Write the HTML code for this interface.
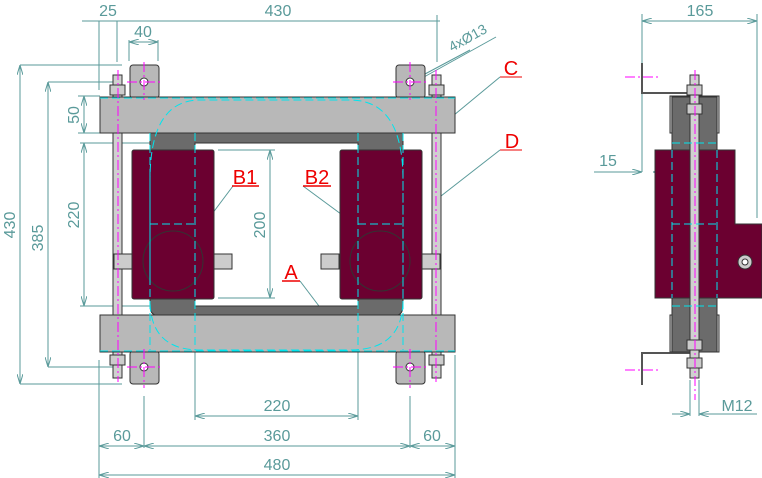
<!DOCTYPE html>
<html><head><meta charset="utf-8"><style>html,body{margin:0;padding:0;background:#fff}svg{display:block}</style></head><body>
<svg width="762" height="478" viewBox="0 0 762 478" xmlns="http://www.w3.org/2000/svg" font-family="Liberation Sans, sans-serif">
<defs>
<marker id="a" viewBox="0 0 10 6" refX="10" refY="3" markerWidth="10" markerHeight="6" orient="auto-start-reverse" markerUnits="userSpaceOnUse"><path d="M0,0 L10,3 L0,6" fill="none" stroke="#5a9a9a" stroke-width="1"/></marker>
</defs>
<g stroke="#5a9a9a" stroke-width="1" fill="none">
<!-- top dims -->
<line x1="82" y1="21" x2="440" y2="21"/>
<line x1="99" y1="21" x2="99" y2="90"/><line x1="117" y1="21" x2="117" y2="62"/>
<line x1="437" y1="15" x2="437" y2="62"/>
<line x1="129" y1="40" x2="129" y2="61"/><line x1="158" y1="40" x2="158" y2="61"/>
<line x1="129" y1="42" x2="158" y2="42" marker-start="url(#a)" marker-end="url(#a)"/>
<!-- left dims -->
<line x1="20" y1="65" x2="122" y2="65"/><line x1="20" y1="65" x2="20" y2="384" marker-start="url(#a)" marker-end="url(#a)"/>
<line x1="20" y1="384" x2="122" y2="384"/>
<line x1="48" y1="82" x2="113" y2="82"/><line x1="48" y1="82" x2="48" y2="367" marker-start="url(#a)" marker-end="url(#a)"/>
<line x1="48" y1="367" x2="113" y2="367"/>
<line x1="78" y1="96" x2="100" y2="96"/><line x1="84" y1="96" x2="84" y2="133" marker-start="url(#a)" marker-end="url(#a)"/>
<line x1="78" y1="133" x2="100" y2="133"/>
<line x1="80" y1="143" x2="195" y2="143"/><line x1="84" y1="143" x2="84" y2="306" marker-start="url(#a)" marker-end="url(#a)"/>
<line x1="80" y1="306" x2="195" y2="306"/>
<line x1="218" y1="150" x2="275" y2="150"/><line x1="218" y1="298" x2="275" y2="298"/>
<line x1="270" y1="150" x2="270" y2="298" marker-start="url(#a)" marker-end="url(#a)"/>
<!-- bottom dims -->
<line x1="195" y1="300" x2="195" y2="420"/><line x1="358" y1="300" x2="358" y2="420"/>
<line x1="195" y1="416" x2="358" y2="416" marker-start="url(#a)" marker-end="url(#a)"/>
<line x1="99" y1="360" x2="99" y2="478"/><line x1="455" y1="355" x2="455" y2="478"/>
<line x1="144" y1="396" x2="144" y2="448"/><line x1="410" y1="396" x2="410" y2="448"/>
<line x1="99" y1="446" x2="144" y2="446" marker-start="url(#a)" marker-end="url(#a)"/>
<line x1="144" y1="446" x2="410" y2="446" marker-start="url(#a)" marker-end="url(#a)"/>
<line x1="410" y1="446" x2="455" y2="446" marker-start="url(#a)" marker-end="url(#a)"/>
<line x1="99" y1="475" x2="455" y2="475" marker-start="url(#a)" marker-end="url(#a)"/>
<!-- right view dims -->
<line x1="642" y1="14" x2="642" y2="172"/><line x1="757" y1="14" x2="757" y2="218"/>
<line x1="642" y1="21" x2="757" y2="21" marker-start="url(#a)" marker-end="url(#a)"/>
<line x1="594" y1="172" x2="642" y2="172" marker-end="url(#a)"/><line x1="672" y1="172" x2="653" y2="172" marker-end="url(#a)"/>
<line x1="672" y1="172" x2="672" y2="178"/>
<line x1="690" y1="380" x2="690" y2="416"/><line x1="699" y1="380" x2="699" y2="416"/>
<line x1="672" y1="414" x2="690" y2="414" marker-end="url(#a)"/><line x1="757" y1="414" x2="699" y2="414" marker-end="url(#a)"/>
<!-- leaders -->
<line x1="496" y1="37" x2="397" y2="92"/><line x1="470" y1="50" x2="410" y2="82"/>
<line x1="522" y1="77" x2="500" y2="77" stroke="#e00"/><line x1="500" y1="77" x2="448" y2="120"/>
<line x1="522" y1="150" x2="500" y2="150" stroke="#e00"/><line x1="500" y1="150" x2="441" y2="196"/>
<line x1="233" y1="186" x2="209" y2="218"/><line x1="303" y1="186" x2="345" y2="217"/>
<line x1="300" y1="281" x2="325" y2="314"/>
</g>
<!-- front view -->
<g stroke="#333" stroke-width="1">
<rect x="130" y="65" width="29" height="33" rx="3" fill="#b8b8b8"/>
<rect x="396" y="65" width="29" height="33" rx="3" fill="#b8b8b8"/>
<rect x="130" y="351" width="29" height="33" rx="3" fill="#b8b8b8"/>
<rect x="396" y="351" width="29" height="33" rx="3" fill="#b8b8b8"/>
<path d="M150,133 H403 V306 Q403,316 393,316 H160 Q150,316 150,306 Z M195,143 V306 H358 V143 Z" fill="#6b6b6b" fill-rule="evenodd"/>
<rect x="113" y="75" width="9" height="303" fill="#d0d0d0"/>
<rect x="432" y="75" width="9" height="303" fill="#d0d0d0"/>
<rect x="100" y="97" width="355" height="36" fill="#b8b8b8"/>
<rect x="100" y="315" width="355" height="37" fill="#b8b8b8"/>
<rect x="132" y="150" width="82" height="149" rx="2" fill="#6b0030"/>
<rect x="340" y="150" width="82" height="149" rx="2" fill="#6b0030"/>
<circle cx="173" cy="261" r="30" fill="none"/><circle cx="380" cy="261" r="30" fill="none"/>
<rect x="110" y="85" width="15" height="10" fill="#ccc"/><rect x="429" y="85" width="15" height="10" fill="#ccc"/>
<rect x="110" y="355" width="15" height="10" fill="#ccc"/><rect x="429" y="355" width="15" height="10" fill="#ccc"/>
<rect x="114" y="254" width="18" height="15" fill="#ccc"/><rect x="214" y="254" width="18" height="15" fill="#ccc"/>
<rect x="321" y="254" width="18" height="15" fill="#ccc"/><rect x="422" y="254" width="18" height="15" fill="#ccc"/>
<circle cx="144" cy="82" r="4" fill="#fff"/><circle cx="410" cy="82" r="4" fill="#fff"/>
<circle cx="144" cy="367" r="4" fill="#fff"/><circle cx="410" cy="367" r="4" fill="#fff"/>
</g>
<g stroke="#00e5ee" stroke-width="1" fill="none" stroke-dasharray="8,4">
<line x1="100" y1="98" x2="455" y2="98"/><line x1="100" y1="351" x2="455" y2="351"/>
<path d="M150,280 V180 Q150,100 200,100 H350 Q403,100 403,180 V300 Q403,350 350,350 H200 Q150,350 150,300"/>
<line x1="150" y1="133" x2="150" y2="350"/><line x1="195" y1="133" x2="195" y2="350"/>
<line x1="358" y1="133" x2="358" y2="350"/><line x1="403" y1="133" x2="403" y2="350"/>
<line x1="150" y1="224" x2="195" y2="224"/><line x1="358" y1="224" x2="403" y2="224"/>
</g>
<g stroke="#ff00ff" stroke-width="1" stroke-dasharray="10,3,2,3">
<line x1="118" y1="70" x2="118" y2="382"/><line x1="436" y1="70" x2="436" y2="382"/>
<line x1="144" y1="62" x2="144" y2="100"/><line x1="410" y1="62" x2="410" y2="100"/>
<line x1="144" y1="349" x2="144" y2="388"/><line x1="410" y1="349" x2="410" y2="388"/>
<line x1="127" y1="82" x2="162" y2="82"/><line x1="393" y1="82" x2="428" y2="82"/>
<line x1="127" y1="367" x2="162" y2="367"/><line x1="393" y1="367" x2="428" y2="367"/>
</g>
<!-- side view -->
<g stroke="#333" stroke-width="1">
<path d="M642,63 V93 H690" fill="none" stroke-width="2" stroke="#555"/>
<path d="M642,385 V353 H690" fill="none" stroke-width="2" stroke="#555"/>
<rect x="670" y="96" width="49" height="37" fill="#ccc"/>
<rect x="670" y="315" width="49" height="37" fill="#ccc"/>
<rect x="672" y="97" width="45" height="255" fill="#6b6b6b"/>
<path d="M655,150 H735 V224 H762 V298 H655 Z" fill="#6b0030"/>
<rect x="690" y="75" width="9" height="303" fill="#d0d0d0"/>
<rect x="687" y="85" width="15" height="10" fill="#ccc"/><rect x="687" y="104" width="15" height="10" fill="#ccc"/>
<rect x="687" y="340" width="15" height="10" fill="#ccc"/><rect x="687" y="358" width="15" height="10" fill="#ccc"/>
<circle cx="745" cy="262" r="7" fill="#ccc"/><circle cx="745" cy="262" r="3" fill="#fff"/>
</g>
<g stroke="#00e5ee" stroke-dasharray="8,4" fill="none">
<line x1="672" y1="143" x2="717" y2="143"/><line x1="672" y1="306" x2="717" y2="306"/>
<line x1="672" y1="150" x2="672" y2="298"/><line x1="717" y1="150" x2="717" y2="298"/>
<line x1="672" y1="224" x2="717" y2="224"/>
</g>
<g stroke="#ff00ff" stroke-dasharray="10,3,2,3">
<line x1="695" y1="70" x2="695" y2="400"/>
<line x1="625" y1="77" x2="660" y2="77"/><line x1="625" y1="370" x2="660" y2="370"/>
</g>
<!-- text -->
<g fill="#5a9a9a" font-size="16" text-anchor="middle">
<text x="108" y="16">25</text><text x="278" y="16">430</text><text x="143" y="37">40</text>
<text x="700" y="16">165</text><text x="608" y="166">15</text><text x="737" y="411">M12</text>
<text x="277" y="411">220</text><text x="122" y="441">60</text><text x="277" y="441">360</text><text x="432" y="441">60</text>
<text x="277" y="470">480</text>
<text transform="translate(15,225) rotate(-90)">430</text>
<text transform="translate(43,238) rotate(-90)">385</text>
<text transform="translate(79,115) rotate(-90)">50</text>
<text transform="translate(79,215) rotate(-90)">220</text>
<text transform="translate(265,225) rotate(-90)">200</text>
<text transform="translate(470,42) rotate(-29)" font-size="14">4xØ13</text>
</g>
<g fill="#e00" font-size="20" text-anchor="middle">
<text x="245" y="184">B1</text><text x="317" y="184">B2</text><text x="291" y="279">A</text>
<text x="511" y="75">C</text><text x="512" y="148">D</text>
</g>
<g stroke="#e00" stroke-width="1.5">
<line x1="232" y1="186" x2="259" y2="186"/><line x1="303" y1="186" x2="331" y2="186"/><line x1="282" y1="281" x2="300" y2="281"/>
</g>
</svg>
</body></html>
